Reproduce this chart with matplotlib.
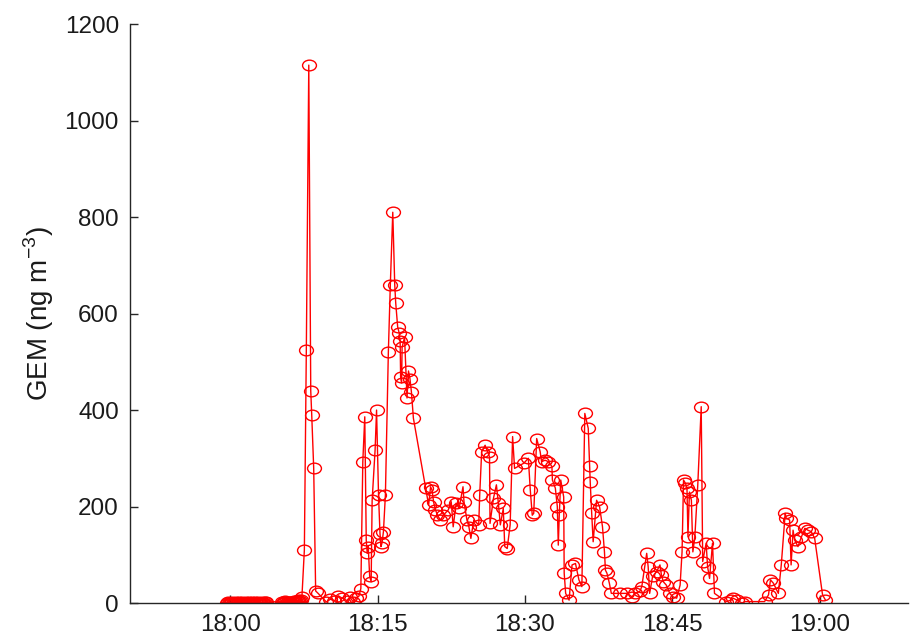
import numpy as np
import pandas as pd
import matplotlib
matplotlib.use('Agg')
import matplotlib.pyplot as plt
import matplotlib.dates as mdates
from matplotlib.path import Path
from matplotlib.transforms import Affine2D

# minutes after 18:00 and GEM concentration (ng m-3)
minutes = [
    -0.35, -0.25, -0.15, -0.05, 0.05, 0.15, 0.25, 0.35, 0.45, 0.55, 0.65,
    0.75, 0.85, 0.95, 1.05, 1.15, 1.25, 1.35, 1.45, 1.55, 1.65, 1.75, 1.85, 1.95,
    2.05, 2.15, 2.25, 2.35, 2.45, 2.55, 2.65, 2.75, 2.85, 2.95, 3.05, 3.15, 3.25,
    3.35, 3.45, 3.55, 3.65,
    5.3, 5.4, 5.5, 5.6, 5.7, 5.8, 5.9, 6.0, 6.1, 6.2, 6.3, 6.4, 6.5, 6.6, 6.7, 6.8,
    6.9, 7.0, 7.1, 7.2, 7.3,
    7.55, 7.75, 8.0, 8.2, 8.3, 8.5, 8.7, 8.95,
    9.8, 10.2, 10.6, 11.0, 11.4, 11.9, 12.2, 12.5, 12.8, 13.1, 13.3,
    13.5, 13.7, 13.85, 13.95, 14.05, 14.2, 14.35, 14.45, 14.75, 14.9, 15.1, 15.25,
    15.35, 15.45, 15.6, 15.8, 16.1, 16.3, 16.55, 16.75, 16.85, 17.05, 17.2, 17.3,
    17.35, 17.45, 17.5, 17.75, 18.0, 18.15, 18.3, 18.45, 18.65,
    19.9, 20.2, 20.4, 20.55, 20.7, 20.9, 21.1, 21.4, 21.7, 22.2, 22.5, 22.7, 23.0,
    23.3, 23.7, 23.8, 24.1, 24.3, 24.5, 24.8, 25.3, 25.4, 25.6, 25.95, 26.2, 26.4,
    26.45, 26.8, 27.1, 27.3, 27.5, 27.8, 27.95, 28.2, 28.5, 28.75, 28.95,
    29.9, 30.35, 30.55, 30.75, 30.9, 31.2, 31.55, 31.7, 32.05, 32.4, 32.75, 32.8,
    33.1, 33.3, 33.4, 33.5, 33.65, 33.95, 34.0, 34.15, 34.5, 34.8, 35.15, 35.5, 35.8,
    36.1, 36.45, 36.6, 36.65, 36.8, 36.95, 37.3, 37.6, 37.9, 38.1, 38.2, 38.35, 38.6,
    38.8,
    39.7, 40.4, 40.9, 41.2, 41.7, 41.9, 42.4, 42.55, 42.7, 43.0, 43.4, 43.75, 43.9,
    44.1, 44.4, 44.75, 45.05, 45.45, 45.8, 46.0, 46.15, 46.35, 46.5, 46.6, 46.75,
    46.95, 47.1, 47.3, 47.6, 47.95, 48.1, 48.45, 48.6, 48.8, 49.1, 49.3,
    50.5, 51.0, 51.2, 51.6, 52.1, 52.4,
    54.4, 54.8, 55.0, 55.3, 55.8, 56.1, 56.5, 56.6, 56.95, 57.1, 57.3, 57.45, 57.8,
    58.15, 58.5, 58.8, 59.15, 59.5, 60.3, 60.6,
]
gem = [
    0, 2, 0, 1, 0, 2, 1, 0, 1, 3, 0,
    1, 2, 0, 1, 0, 2, 1, 0, 1, 3, 0, 1, 2,
    0, 1, 2, 0, 1, 2, 1, 0, 2, 1, 0, 1, 2,
    0, 1, 3, 2,
    3, 1, 2, 4, 2, 1, 2, 0, 3, 1, 3, 2, 5, 2, 2, 4,
    6, 3, 4, 6, 12,
    110, 525, 1115, 440, 390, 280, 25, 20,
    2, 8, 4, 15, 10, 5, 12, 3, 10, 14, 30,
    293, 386, 130, 103, 117, 55, 44, 213, 317, 400, 224, 144,
    117, 124, 148, 224, 520, 659, 810, 660, 622, 572, 560, 543,
    468, 456, 530, 551, 425, 481, 465, 437, 383,
    238, 203, 241, 234, 210, 193, 182, 172, 182, 193, 210, 158, 207,
    196, 241, 210, 172, 158, 134, 172, 162, 224, 314, 327, 314, 303,
    165, 217, 245, 207, 162, 196, 117, 113, 162, 345, 279,
    290, 300, 234, 182, 186, 341, 314, 293, 296, 293, 283, 255,
    238, 200, 120, 182, 255, 220, 62, 20, 6, 79, 82, 48, 34,
    393, 362, 283, 251, 186, 127, 213, 200, 158, 106, 68, 62, 41,
    20,
    20, 20, 13, 20, 24, 34, 103, 75, 20, 55, 65, 79, 58,
    44, 37, 20, 13, 10, 37, 106, 255, 248, 238, 137, 230,
    213, 106, 137, 245, 407, 86, 124, 75, 51, 124, 20,
    3, 6, 10, 6, 0, 3,
    3, 17, 48, 41, 20, 79, 186, 176, 172, 79, 151, 131, 117,
    137, 155, 151, 148, 134, 17, 6,
]

base = pd.Timestamp('2019-01-01 18:00')
times = base + pd.to_timedelta(minutes, unit='min')

plt.rcParams['font.family'] = ['Liberation Sans', 'DejaVu Sans']

# slightly wide open circle, as in the original
ellipse = Path.unit_circle().transformed(Affine2D().scale(1.3, 1.0))

fig = plt.figure(figsize=(9.11, 6.39), dpi=100)
ax = fig.add_axes([0.1427, 0.0563, 0.854, 0.906])
ax.plot(times, gem, color='#ff0000', lw=1.0, marker=ellipse, ms=10,
        mfc='none', mec='#ff0000', mew=1.0)

ax.set_xlim(base + pd.Timedelta(minutes=-10.2), base + pd.Timedelta(minutes=69))
ax.set_ylim(0, 1200)
ax.set_yticks(np.arange(0, 1201, 200))
ax.set_xticks([base + pd.Timedelta(minutes=m) for m in [0, 15, 30, 45, 60]])
ax.xaxis.set_major_formatter(mdates.DateFormatter('%H:%M'))

for s in ['top', 'right']:
    ax.spines[s].set_visible(False)
for s in ['left', 'bottom']:
    ax.spines[s].set_color('#262626')
    ax.spines[s].set_linewidth(1.0)
ax.tick_params(direction='in', length=6, width=1, color='#262626',
               labelsize=17.5, labelcolor='#1a1a1a', pad=8)
ax.set_ylabel('GEM (ng m$^{\\mathregular{-3}}$)', fontsize=20, color='#1a1a1a',
              labelpad=6)

fig.savefig('out.png', dpi=100)
